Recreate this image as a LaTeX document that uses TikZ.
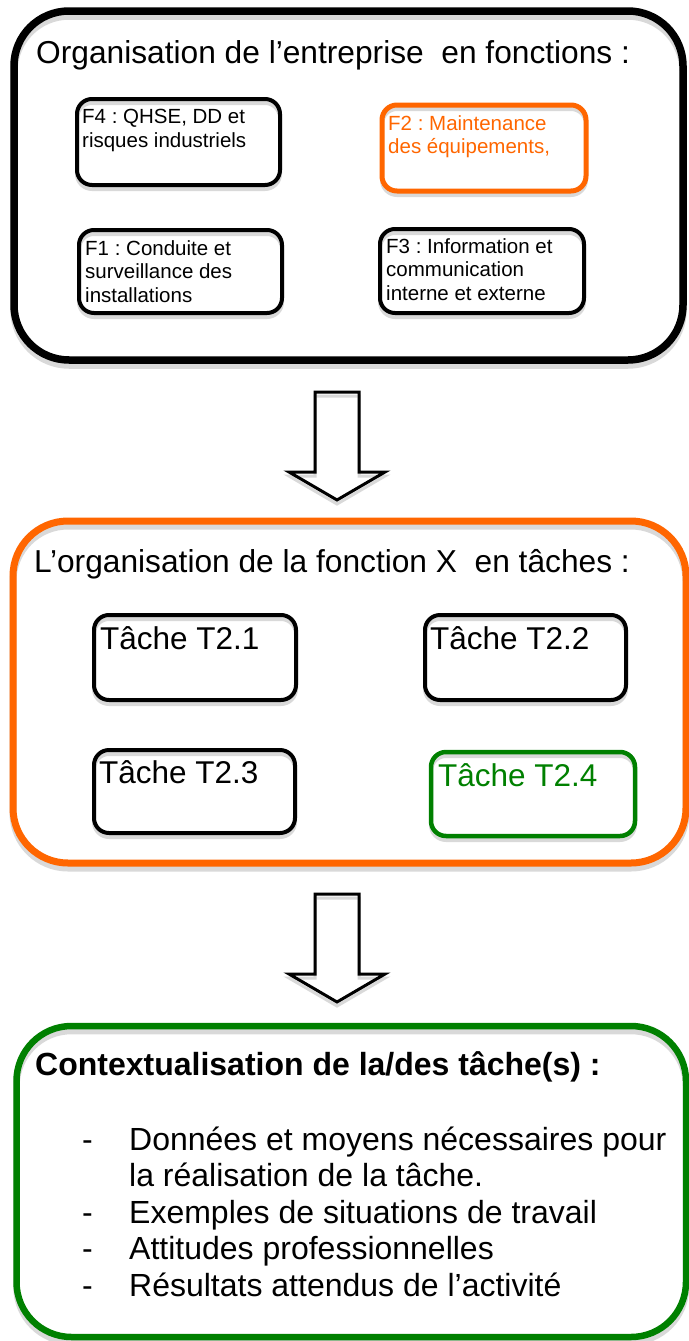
\documentclass[tikz,border=0pt]{standalone}
\usepackage{fontspec}
\setmainfont{Liberation Sans}
\usepackage{tikz}
\usetikzlibrary{positioning,backgrounds,calc}
\frenchspacing
\definecolor{fnorange}{RGB}{255,102,0}
\definecolor{tkgreen}{RGB}{0,128,0}
\tikzset{
  bigbox/.style={rectangle, rounded corners=55pt, line width=7pt, outer sep=0pt, inner sep=0pt},
  smallbox/.style={rectangle, rounded corners=15pt, draw=black, line width=4pt, outer sep=0pt, inner sep=0pt},
  bigtitle/.style={anchor=base west, inner sep=0pt, font=\fontsize{31.7}{36}\selectfont},
  fntext/.style={anchor=north west, inner sep=0pt, align=left, font=\fontsize{20.5}{23.5}\selectfont},
  tktext/.style={anchor=north west, inner sep=0pt, font=\fontsize{31.5}{36}\selectfont},
  shdw/.style={draw=gray!30},
  bigarrow/.style={draw=black, line width=3pt, line join=miter},
}

\begin{document}
\begin{tikzpicture}[x=1pt,y=-1pt]
\useasboundingbox (0,0) rectangle (688,1341);
% functions of the company
\node[bigbox, draw=black, line width=7.5pt, minimum width=669pt, minimum height=349pt] (org) at (348.5,185.5) {};
\node[bigtitle] (orgt) at (36,63) {Organisation de l’entreprise~ en fonctions :};
\node[smallbox, minimum width=203pt, minimum height=86pt] (f4) at (178.5,142) {};
\node[smallbox, draw=fnorange, line width=5pt, minimum width=204pt, minimum height=86pt] (f2) at (484,148) {};
\node[smallbox, minimum width=203pt, minimum height=83pt] (f1) at (180.5,271.5) {};
\node[smallbox, minimum width=204pt, minimum height=84pt] (f3) at (482,271) {};
\node[fntext] (f4l) at ([shift={(5pt,-10pt)}]f4.north west) {F4 : QHSE, DD et\\risques industriels};
\node[fntext, text=fnorange] (f2l) at ([shift={(6pt,-10pt)}]f2.north west) {F2 : Maintenance\\des équipements,};
\node[fntext] (f1l) at ([shift={(6pt,-10pt)}]f1.north west) {F1 : Conduite et\\surveillance des\\installations};
\node[fntext] (f3l) at ([shift={(6pt,-9pt)}]f3.north west) {F3 : Information et\\communication\\interne et externe};
% tasks of the function
\node[bigbox, draw=fnorange, minimum width=673pt, minimum height=342pt] (fct) at (349.5,692) {};
\node[bigtitle] (fctt) at (34,572) {L’organisation de la fonction X~ en tâches :};
\node[smallbox, minimum width=202pt, minimum height=85pt] (t1) at (195,657.5) {};
\node[smallbox, minimum width=201pt, minimum height=85pt] (t2) at (525.5,657.5) {};
\node[smallbox, minimum width=201pt, minimum height=83pt] (t3) at (194.5,791.5) {};
\node[smallbox, draw=tkgreen, line width=4.5pt, minimum width=204pt, minimum height=84pt] (t4) at (533,794) {};
\node[tktext] (t1l) at ([shift={(6pt,-11pt)}]t1.north west) {Tâche T2.1};
\node[tktext] (t2l) at ([shift={(5pt,-11pt)}]t2.north west) {Tâche T2.2};
\node[tktext] (t3l) at ([shift={(5pt,-10.5pt)}]t3.north west) {Tâche T2.3};
\node[tktext, text=tkgreen] (t4l) at ([shift={(7pt,-11.5pt)}]t4.north west) {Tâche T2.4};
% context of the tasks
\node[bigbox, draw=tkgreen, line width=6.5pt, minimum width=669.5pt, minimum height=311pt] (ctx) at (351.25,1181.5) {};
\node[bigtitle, font=\bfseries\fontsize{32}{36}\selectfont] (ctxt) at (35,1075) {Contextualisation de la/des tâche(s) :};
\node[anchor=base west, inner sep=0pt, font=\fontsize{32}{36.5}\selectfont] (ctxl) at (82,1150)
  {\begin{tabular}[t]{@{}p{47pt}@{}l@{}}
   -&Données et moyens nécessaires pour\\
    &la réalisation de la tâche.\\
   -&Exemples de situations de travail\\
   -&Attitudes professionnelles\\
   -&Résultats attendus de l’activité
   \end{tabular}};
% block arrows
\coordinate (a1) at (337,392);
\coordinate (a2) at (337,894);
\foreach \a in {a1,a2}
  \draw[bigarrow] (\a) ++(-22,0) -- ++(0,80) -- ++(-26,0) -- ++(48,28) -- ++(48,-28) -- ++(-26,0) -- ++(0,-80) -- cycle;
% grey shadows
\begin{scope}[on background layer]
  \foreach \n/\w in {org/7.5pt,fct/7pt,ctx/6.5pt}
    \draw[shdw, line width=\w, rounded corners=55pt] ([yshift=-5pt]\n.north west) rectangle ([yshift=-5pt]\n.south east);
  \foreach \n in {f4,f2,f1,f3,t1,t2,t3,t4}
    \draw[shdw, line width=4pt, rounded corners=15pt] ([yshift=-4pt]\n.north west) rectangle ([yshift=-4pt]\n.south east);
  \foreach \a in {a1,a2}
    \draw[shdw, line width=3pt] ([yshift=-4pt]\a) ++(-22,0) -- ++(0,80) -- ++(-26,0) -- ++(48,28) -- ++(48,-28) -- ++(-26,0) -- ++(0,-80) -- cycle;
\end{scope}
\end{tikzpicture}
\end{document}
